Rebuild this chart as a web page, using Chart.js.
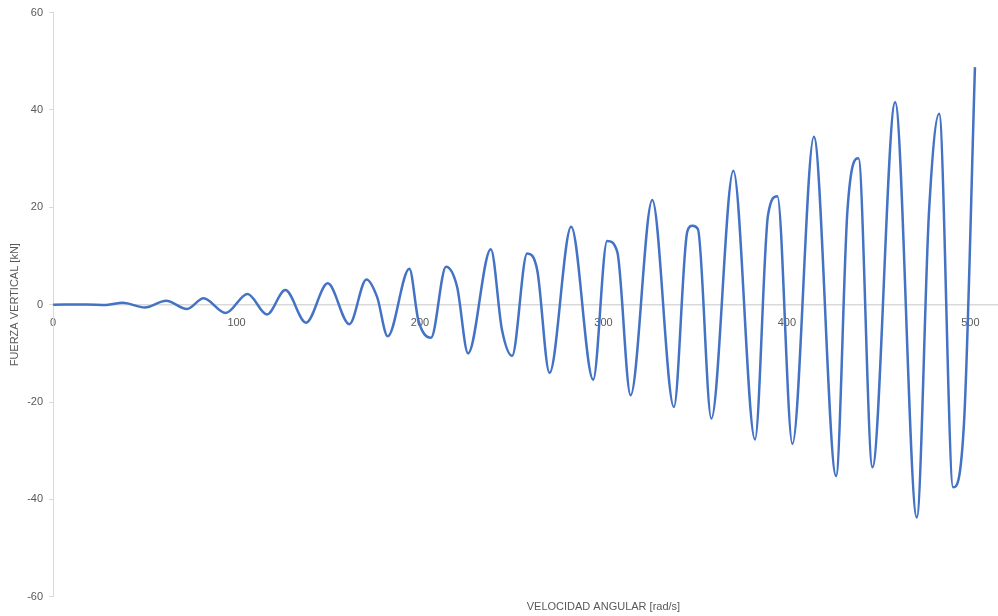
<!DOCTYPE html>
<html>
<head>
<meta charset="utf-8">
<title>Fuerza vertical vs velocidad angular</title>
<script src="https://cdn.jsdelivr.net/npm/chart.js@4/dist/chart.umd.min.js"></script>
<style>
  html, body { margin: 0; padding: 0; background: #ffffff; overflow: hidden; }
  #wrap { width: 1167px; height: 616px; }
</style>
</head>
<body>
<div id="wrap"><canvas id="chart" width="1167" height="616"></canvas></div>
<script>
// Angular speed [rad/s] at each sampled turning point of the response
const speed = [
  0, 18, 29, 38, 50, 61.6, 73, 82, 94, 106, 116.6, 126.6, 137.9, 149.7,
  161.5, 170.8, 176.6, 182.4, 194.2, 199.1, 206, 214.2, 220.2, 226.2,
  238.6, 244.7, 250.2, 258.4, 263.9, 270.6, 282.4, 294.4, 302, 307.5,
  314.8, 326.6, 338.4, 345.7, 348.5, 351.5, 358.8, 370.8, 382.6, 389.7,
  394.8, 403, 414.7, 426.8, 433, 439, 446.6, 459, 470.8, 477.5, 483,
  490.6, 496.6, 502.5
];
// Vertical force [kN] at those speeds
const force = [
  0, 0.05, -0.05, 0.4, -0.6, 0.8, -0.9, 1.3, -1.7, 2.2, -2.0, 3.0, -3.7, 4.4,
  -4.0, 5.2, 1.6, -6.5, 7.4, -3.2, -6.8, 7.8, 3.7, -10.0,
  11.4, -5.2, -10.5, 10.5, 7.1, -14.0, 16.0, -15.4, 13.1, 10.9,
  -18.6, 21.5, -21.0, 15.0, 16.2, 15.5, -23.4, 27.5, -27.7, 18.4,
  22.3, -28.6, 34.5, -35.2, 19.4, 30.1, -33.4, 41.6, -43.7, 19.4, 39.2,
  -37.5, -23.8, 48.8
];
const xTicks = [0, 100, 200, 300, 400, 500, 600];
const yTicks = [-60, -40, -20, 0, 20, 40, 60];

const points = speed.map((s, i) => ({ x: s, y: force[i] }));
const textColor = '#595959';
const axisColor = '#d9d9d9';
const font = { family: 'Liberation Sans, Arial, sans-serif', size: 11 };

new Chart(document.getElementById('chart'), {
  type: 'line',
  data: {
    datasets: [{
      data: points,
      borderColor: '#4472C4',
      borderWidth: 2.5,
      pointRadius: 0,
      fill: false,
      cubicInterpolationMode: 'monotone'
    }]
  },
  options: {
    responsive: false,
    animation: false,
    layout: { padding: { top: 7, right: 7, left: 8, bottom: 0 } },
    plugins: { legend: { display: false }, tooltip: { enabled: false } },
    scales: {
      x: {
        type: 'linear',
        min: xTicks[0],
        max: xTicks[xTicks.length - 1],
        position: { y: 0 },
        grid: { display: false },
        border: { display: true, color: axisColor, width: 1.5 },
        afterBuildTicks: (scale) => { scale.ticks = xTicks.map(v => ({ value: v })); },
        ticks: { color: textColor, font: font, padding: 4, maxRotation: 0 }
      },
      xTitle: {
        type: 'linear',
        position: 'bottom',
        min: 0, max: 1,
        grid: { display: false },
        border: { display: false },
        ticks: { display: false },
        title: {
          display: true,
          text: 'VELOCIDAD ANGULAR [rad/s]',
          color: textColor,
          font: font,
          padding: { top: -4, bottom: 2 }
        }
      },
      y: {
        type: 'linear',
        min: yTicks[0],
        max: yTicks[yTicks.length - 1],
        position: 'left',
        afterBuildTicks: (scale) => { scale.ticks = yTicks.map(v => ({ value: v })); },
        grid: { drawOnChartArea: false, drawTicks: true, tickLength: 4, color: axisColor },
        border: { display: true, color: axisColor, width: 1 },
        ticks: { color: textColor, font: font, padding: 6 },
        title: {
          display: true,
          text: 'FUERZA VERTICAL [kN]',
          color: textColor,
          font: font,
          padding: { top: 0, bottom: 0 }
        }
      }
    }
  }
});
</script>
</body>
</html>
